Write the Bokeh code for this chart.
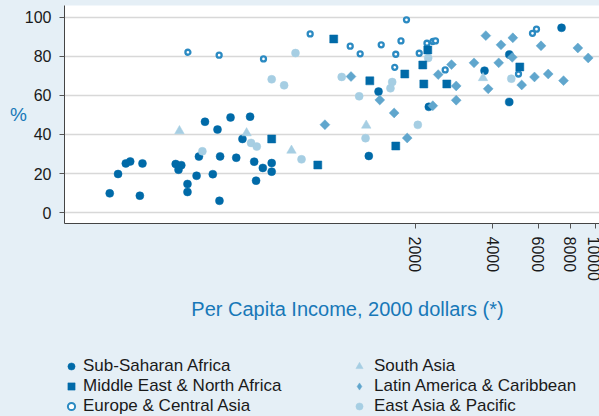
import numpy as np
from bokeh.plotting import figure
from bokeh.layouts import column
from bokeh.models import (FixedTicker, NumeralTickFormatter, Legend, LegendItem,
                          Label, Range1d)
from bokeh.embed import file_html
from bokeh.resources import INLINE

# ---------------- data ----------------
ssa_income = [129, 139, 149, 155, 173, 169, 233, 245, 239, 259, 259, 281, 287, 303, 325,
              339, 347, 345, 381, 401, 424, 454, 471, 479, 509, 551, 551, 1436, 1316,
              3713, 4639, 4634, 7407, 2254]
ssa_pct = [9.9, 19.8, 25.2, 26.2, 25.2, 8.7, 24.9, 24.3, 22.0, 14.7, 10.6, 18.9, 28.7,
           46.5, 19.7, 42.5, 28.8, 6.1, 48.7, 28.1, 37.7, 49.1, 26.1, 16.4, 22.9, 25.4,
           21.0, 61.9, 29.0, 72.6, 80.8, 56.6, 94.5, 54.1]

mena_income = [551, 833, 961, 1328, 1676, 1817, 2135, 2155, 2233, 2648, 5095]
mena_pct = [37.7, 24.4, 88.8, 67.4, 34.1, 70.9, 75.5, 65.8, 83.2, 65.8, 74.5]

eca_income = [260, 344, 512, 778, 1114, 1218, 1471, 1756, 1845, 1676, 1661, 2068, 2217,
              2340, 2393, 2610, 5036, 5709, 5917]
eca_pct = [82.0, 80.5, 78.6, 91.4, 85.1, 81.2, 85.8, 87.8, 98.6, 81.0, 74.3, 81.5, 86.6,
           87.5, 87.8, 73.0, 70.9, 91.7, 93.8]

sa_income = [241, 440, 658, 1286, 3664]
sa_pct = [41.8, 40.7, 31.8, 44.6, 68.9]

lac_income = [888, 1122, 1452, 1652, 1857, 2336, 2452, 2762, 2881, 2881, 3380, 3757, 3838,
              4217, 4305, 4786, 4761, 5183, 5812, 6163, 6573, 7541, 8573, 9408]
lac_pct = [45.0, 69.6, 57.6, 51.0, 38.2, 54.7, 70.6, 75.7, 64.8, 57.5, 76.6, 90.5, 63.3,
           76.6, 85.8, 89.4, 79.4, 65.3, 69.4, 85.3, 70.9, 67.5, 84.2, 79.1]

eap_income = [296, 458, 482, 551, 616, 682, 720, 1032, 1207, 1278, 1623, 1598, 2042, 2241, 4722]
eap_pct = [31.4, 35.7, 33.8, 68.2, 65.1, 81.6, 27.3, 69.4, 59.5, 38.1, 66.8, 63.6, 44.9, 79.1, 68.5]

x_ticks = [2000, 4000, 6000, 8000, 10000]
y_ticks = [0, 20, 40, 60, 80, 100]

names = ["Sub-Saharan Africa", "Middle East & North Africa", "Europe & Central Asia",
         "South Asia", "Latin America & Caribbean", "East Asia & Pacific"]
x_title = "Per Capita Income, 2000 dollars (*)"
y_title = "%"

# ---------------- styles ----------------
BG = "#e5eff6"
DARK = "#006aa8"
RING = "#2b8ac2"
MID = "#60a6cd"
LIGHT = "#a6cee3"
BLUE_TXT = "#1878b8"
TXT = "#1a1a1a"
FONT = "Liberation Sans"

styles = [
    dict(marker="circle", fill_color=DARK, line_color=DARK, line_width=0.5),
    dict(marker="square", fill_color=DARK, line_color=DARK, line_width=0.5),
    dict(marker="circle", fill_color="white", line_color=RING, line_width=2.3),
    dict(marker="triangle", fill_color=LIGHT, line_color=LIGHT, line_width=0.5),
    dict(marker="square", angle=np.pi / 4, fill_color=MID, line_color=MID, line_width=0.5),
    dict(marker="circle", fill_color=LIGHT, line_color=LIGHT, line_width=0.5),
]
sizes = [8, 8, 5, 9.5, 7, 8]

# ---------------- main plot ----------------
H1 = 290
p = figure(width=599, height=H1, x_axis_type="log",
           x_range=Range1d(86, 10410), y_range=Range1d(-5.5, 105.9),
           output_backend="svg", toolbar_location=None,
           min_border_left=64, min_border_right=0, min_border_top=5,
           min_border_bottom=H1 - 223)
p.background_fill_color = "white"
p.border_fill_color = BG
p.outline_line_color = None

p.scatter(ssa_income, ssa_pct, size=sizes[0], **styles[0])
p.scatter(eap_income, eap_pct, size=sizes[5], **styles[5])
p.scatter(sa_income, sa_pct, size=sizes[3], **styles[3])
p.scatter(eca_income, eca_pct, size=sizes[2], **styles[2])
p.scatter(mena_income, mena_pct, size=sizes[1], **styles[1])
p.scatter(lac_income, lac_pct, size=sizes[4], **styles[4])

p.xaxis.ticker = FixedTicker(ticks=x_ticks)
p.xaxis.formatter = NumeralTickFormatter(format="0")
p.xaxis.major_label_orientation = "vertical"
p.yaxis.ticker = FixedTicker(ticks=y_ticks)
for ax in (p.xaxis, p.yaxis):
    ax.minor_tick_line_color = None
    ax.major_tick_in = 0
    ax.major_tick_out = 5
    ax.major_tick_line_color = "#555555"
    ax.axis_line_color = "#444444"
    ax.major_label_text_font = FONT
    ax.major_label_text_font_size = "16px"
    ax.major_label_text_color = TXT
    ax.major_label_standoff = 8

p.xgrid.visible = False
p.ygrid.grid_line_color = "#d8d8d8"
p.ygrid.grid_line_width = 1.5

p.yaxis.axis_label = y_title
p.yaxis.axis_label_text_font = FONT
p.yaxis.axis_label_text_font_size = "19px"
p.yaxis.axis_label_text_font_style = "normal"
p.yaxis.axis_label_text_color = BLUE_TXT
p.yaxis.axis_label_standoff = 0
try:
    p.yaxis.axis_label_standoff = -5
except Exception:
    pass
try:
    p.yaxis.axis_label_orientation = "horizontal"
except Exception:
    pass

# ---------------- lower panel: x title + legend ----------------
H2 = 416 - H1
FRAME_LEFT = 64   # the column aligns this panel's frame with the plot's frame
q = figure(width=599, height=H2, x_range=Range1d(0, 1), y_range=Range1d(0, 1),
           output_backend="svg", toolbar_location=None,
           x_axis_location=None, y_axis_location=None,
           min_border_left=0, min_border_right=0, min_border_top=0, min_border_bottom=0)
q.background_fill_color = BG
q.border_fill_color = BG
q.outline_line_color = None
q.grid.visible = False

q.add_layout(Label(x=347 - FRAME_LEFT, y=416 - 308.5, x_units="screen", y_units="screen",
                   text=x_title, text_font=FONT, text_font_size="20px",
                   text_color=BLUE_TXT, text_align="center", text_baseline="middle"))

# legend keys (NaN placeholder rows: nothing is drawn in the panel itself)
key_styles = [dict(s) for s in styles]
key_styles[4] = dict(marker="diamond", fill_color=MID, line_color=MID, line_width=0.5)
key_styles[2]["line_width"] = 2
keys = []
for st in key_styles:
    keys.append(q.scatter(x=[np.nan], y=[np.nan], size=8, **st))

common = dict(glyph_width=18, glyph_height=18, label_height=17, spacing=0, padding=0,
              border_line_color=None, background_fill_alpha=0,
              label_text_font=FONT, label_text_font_size="17px", label_text_color=TXT)
leg1 = Legend(items=[LegendItem(label=names[i], renderers=[keys[i]]) for i in range(3)],
              location=(62 - FRAME_LEFT, 0), label_standoff=3, **common)
leg2 = Legend(items=[LegendItem(label=names[i], renderers=[keys[i]]) for i in range(3, 6)],
              location=(350 - FRAME_LEFT, 0), label_standoff=6, **common)
q.add_layout(leg1, "center")
q.add_layout(leg2, "center")

layout = column(p, q, spacing=0)

html = file_html(layout, INLINE)
html = html.replace("<head>", "<head><style>html,body{margin:0;padding:0;overflow:hidden;background:%s;}</style>" % BG, 1)
open("out.html", "w").write(html)
